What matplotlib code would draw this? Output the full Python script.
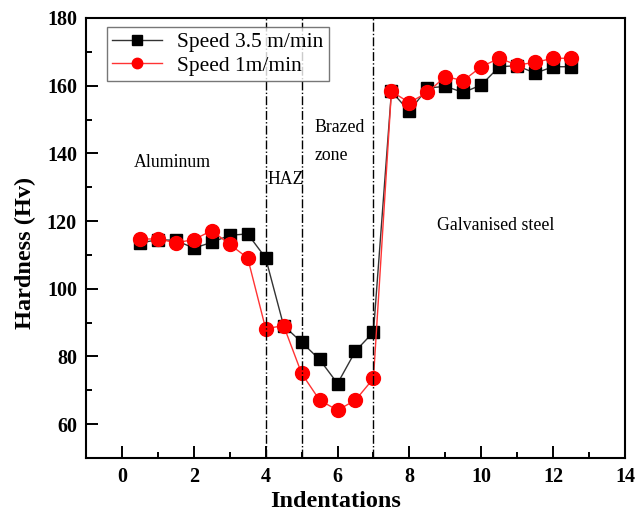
import numpy as np
import matplotlib
matplotlib.use("Agg")
import matplotlib.pyplot as plt
from matplotlib.ticker import MultipleLocator

plt.rcParams['font.family'] = ['Liberation Serif', 'DejaVu Serif']

# indentation positions
indent = [0.5, 1.0, 1.5, 2.0, 2.5, 3.0, 3.5, 4.0, 4.5, 5.0, 5.5, 6.0, 6.5,
          7.0, 7.5, 8.0, 8.5, 9.0, 9.5, 10.0, 10.5, 11.0, 11.5, 12.0, 12.5]

# hardness at 3.5 m/min
hv_fast = [113.5, 114.5, 114.3, 112.0, 113.7, 115.8, 116.2, 109.1, 89.1,
           84.2, 79.1, 72.0, 81.6, 87.2, 158.3, 152.4, 159.3, 159.8, 158.0,
           160.2, 165.6, 165.9, 163.7, 165.6, 165.6]

# hardness at 1 m/min
hv_slow = [114.7, 114.7, 113.6, 114.5, 117.2, 113.1, 109.1, 88.2, 89.1,
           75.0, 67.1, 64.1, 67.1, 73.5, 158.3, 155.0, 158.0, 162.7, 161.5,
           165.6, 168.1, 166.1, 166.9, 168.1, 168.1]

# zone boundaries
boundaries = [4, 5, 7]

fig = plt.figure(figsize=(6.36, 5.14), dpi=100)
ax = fig.add_axes([0.1352, 0.109, 0.8475, 0.856])

ax.plot(indent, hv_fast, color='#333333', lw=1, marker='s', ms=9,
        mfc='black', mec='black', label='Speed 3.5 m/min')
ax.plot(indent, hv_slow, color='#ff3333', lw=1, marker='o', ms=10,
        mfc='red', mec='red', label='Speed 1m/min')

for b in boundaries:
    ax.axvline(b, color='black', lw=1, ls='-.')

ax.text(0.33, 137.2, 'Aluminum', fontsize=12.8, va='center')
ax.text(4.06, 132.2, 'HAZ', fontsize=12.8, va='center')
ax.text(5.37, 147.5, 'Brazed', fontsize=12.8, va='center')
ax.text(5.37, 139.5, 'zone', fontsize=12.8, va='center')
ax.text(8.77, 118.8, 'Galvanised steel', fontsize=12.8, va='center')

ax.set_xlim(-1, 14)
ax.set_ylim(50, 180)
ax.xaxis.set_major_locator(MultipleLocator(2))
ax.xaxis.set_minor_locator(MultipleLocator(1))
ax.yaxis.set_major_locator(MultipleLocator(20))
ax.yaxis.set_minor_locator(MultipleLocator(10))
ax.set_yticks(np.arange(60, 181, 20))
ax.tick_params(which='both', direction='in', top=False, right=False, width=1.4)
ax.tick_params(which='major', length=8.5, labelsize=14.5, pad=6.5)
ax.tick_params(which='minor', length=4.3)
for lab in ax.get_xticklabels() + ax.get_yticklabels():
    lab.set_fontweight('bold')
for sp in ax.spines.values():
    sp.set_linewidth(1.5)

ax.set_xlabel('Indentations', fontsize=17.5, fontweight='bold')
ax.set_ylabel('Hardness (Hv)', fontsize=17.5, fontweight='bold')
ax.xaxis.set_label_coords(0.464, -0.076)
ax.yaxis.set_label_coords(-0.092, 0.466)

leg = ax.legend(loc='upper left', bbox_to_anchor=(0.039, 0.98), fontsize=15.5,
                frameon=True, fancybox=False, edgecolor='#555555',
                handlelength=2.3, handletextpad=0.7, borderpad=0.25,
                labelspacing=0.15, borderaxespad=0, markerscale=0.75)
leg.get_frame().set_linewidth(1)

fig.savefig('out.png', dpi=100)
